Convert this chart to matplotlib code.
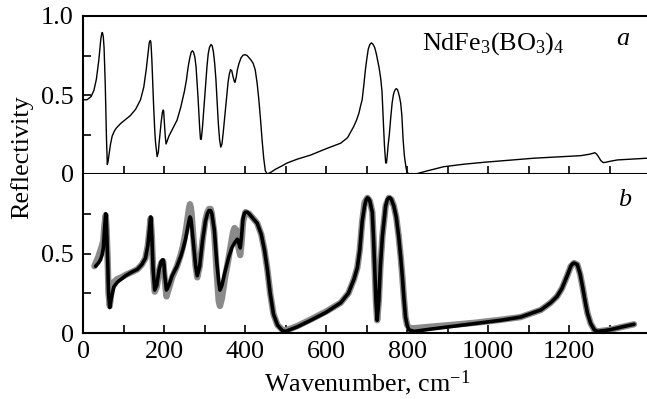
import matplotlib
matplotlib.use("Agg")
import matplotlib.pyplot as plt
from matplotlib.ticker import MultipleLocator, FixedLocator

plt.rcParams['font.family'] = ['Liberation Serif', 'DejaVu Serif']
plt.rcParams['mathtext.fontset'] = 'custom'
plt.rcParams['mathtext.rm'] = 'Liberation Serif'
plt.rcParams['mathtext.it'] = 'Liberation Serif:italic'

# ---- data: panel a (measured reflectivity) ----
wa = [0, 10, 20, 27, 33, 39, 42, 44, 46, 47, 48, 50, 52, 53, 55, 56, 58, 60, 62, 64,
      68, 72, 77, 82, 93, 105, 117, 130, 142, 150, 156, 159, 161, 163, 164, 166, 167,
      168, 170, 172, 174, 177, 179, 183, 186, 188, 193, 196, 198, 199, 201, 203, 205,
      208, 212, 222, 232, 241, 250, 255, 258, 261, 264, 267, 270, 273, 276, 279, 281,
      284, 286, 288, 290, 292, 295, 299, 302, 306, 309, 312, 316, 319, 322, 325, 328,
      331, 334, 337, 340, 343, 346, 352, 358, 361, 364, 367, 370, 373, 375, 378, 381,
      385, 390, 395, 400, 405, 410, 415, 420, 425, 430, 434, 438, 442, 446, 450, 455,
      463, 475, 490, 504, 530, 562, 600, 636, 653, 668, 675, 681, 685, 689, 693, 697,
      700, 704, 708, 712, 716, 720, 724, 727, 731, 735, 738, 740, 742, 744, 747, 749,
      751, 753, 756, 760, 763, 766, 768, 771, 773, 776, 778, 781, 784, 787, 790, 793,
      795, 798, 800, 805, 810, 821, 850, 890, 940, 989, 1050, 1113, 1170, 1228, 1250,
      1260, 1263, 1267, 1272, 1278, 1284, 1292, 1300, 1319, 1360, 1393]
ra = [0.47, 0.47, 0.49, 0.53, 0.60, 0.72, 0.80, 0.855, 0.885, 0.895, 0.895, 0.87,
      0.80, 0.72, 0.56, 0.45, 0.22, 0.06, 0.08, 0.12, 0.19, 0.24, 0.27, 0.29, 0.32,
      0.345, 0.37, 0.41, 0.47, 0.55, 0.66, 0.73, 0.78, 0.82, 0.835, 0.845, 0.84, 0.82,
      0.72, 0.58, 0.45, 0.28, 0.20, 0.11, 0.14, 0.20, 0.33, 0.39, 0.405, 0.40, 0.32,
      0.24, 0.19, 0.21, 0.24, 0.29, 0.34, 0.42, 0.52, 0.59, 0.65, 0.70, 0.74, 0.77,
      0.78, 0.77, 0.74, 0.68, 0.60, 0.48, 0.38, 0.29, 0.22, 0.22, 0.30, 0.44, 0.55,
      0.68, 0.76, 0.80, 0.82, 0.81, 0.77, 0.70, 0.60, 0.46, 0.32, 0.22, 0.17, 0.19,
      0.26, 0.42, 0.58, 0.63, 0.66, 0.655, 0.62, 0.59, 0.58, 0.61, 0.66, 0.70, 0.735,
      0.752, 0.755, 0.75, 0.735, 0.72, 0.70, 0.66, 0.57, 0.47, 0.35, 0.215, 0.10, 0.02,
      0.0, 0.01, 0.03, 0.05, 0.07, 0.095, 0.12, 0.16, 0.195, 0.23, 0.30, 0.34, 0.385,
      0.43, 0.47, 0.56, 0.66, 0.72, 0.79, 0.82, 0.83, 0.82, 0.80, 0.76, 0.72, 0.67,
      0.60, 0.52, 0.40, 0.29, 0.18, 0.07, 0.07, 0.12, 0.18, 0.25, 0.37, 0.45, 0.50,
      0.52, 0.535, 0.54, 0.535, 0.52, 0.49, 0.45, 0.37, 0.22, 0.12, 0.08, 0.03, 0.01,
      0.0, 0.0, 0.0, 0.02, 0.046, 0.062, 0.074, 0.087, 0.10, 0.108, 0.116, 0.125,
      0.132, 0.135, 0.128, 0.11, 0.085, 0.072, 0.075, 0.08, 0.089, 0.095, 0.10]

# ---- data: panel b, black curve ----
wb = [31, 38, 43, 47, 50, 53, 55, 56, 57, 58, 61, 63, 66, 70, 76, 85, 95, 105, 118, 134,
      145, 154, 160, 164, 166, 167, 168, 170, 173, 177, 182, 188, 193, 196, 198, 200,
      201, 206, 212, 220, 232, 241, 247, 253, 259, 262, 264, 266, 268, 273, 278, 282,
      288, 295, 302, 307, 311, 315, 318, 324, 330, 335, 338, 343, 350, 360, 368, 375,
      381, 385, 388, 391, 395, 398, 401, 405, 410, 420, 430, 440, 448, 455, 462, 470,
      480, 492, 500, 530, 562, 600, 636, 655, 669, 677, 683, 689, 695, 699, 702, 705,
      708, 714, 717, 720, 723, 726, 730, 734, 739, 747, 751, 755, 758, 761, 767, 773,
      779, 784, 788, 792, 796, 800, 804, 817, 860, 907, 970, 1031, 1080, 1130, 1154,
      1170, 1182, 1195, 1204, 1208, 1212, 1216, 1220, 1227, 1233, 1240, 1245, 1253,
      1262, 1270, 1300, 1330, 1360]
rb = [0.42, 0.44, 0.46, 0.49, 0.53, 0.65, 0.72, 0.75, 0.74, 0.68, 0.45, 0.25, 0.16,
      0.22, 0.29, 0.32, 0.34, 0.36, 0.38, 0.40, 0.43, 0.47, 0.55, 0.65, 0.71, 0.73,
      0.72, 0.60, 0.40, 0.27, 0.30, 0.40, 0.45, 0.46, 0.46, 0.43, 0.38, 0.27, 0.30,
      0.36, 0.42, 0.48, 0.53, 0.59, 0.67, 0.71, 0.73, 0.72, 0.68, 0.55, 0.42, 0.36,
      0.42, 0.58, 0.70, 0.75, 0.77, 0.77, 0.75, 0.65, 0.45, 0.32, 0.27, 0.30, 0.38,
      0.48, 0.54, 0.57, 0.59, 0.56, 0.535, 0.60, 0.72, 0.75, 0.76, 0.76, 0.75, 0.72,
      0.69, 0.62, 0.52, 0.40, 0.25, 0.12, 0.05, 0.015, 0.01, 0.04, 0.08, 0.13, 0.19,
      0.25, 0.34, 0.41, 0.52, 0.70, 0.80, 0.84, 0.85, 0.845, 0.83, 0.76, 0.60, 0.40,
      0.20, 0.08, 0.20, 0.42, 0.61, 0.80, 0.84, 0.85, 0.85, 0.84, 0.80, 0.73, 0.61,
      0.48, 0.36, 0.22, 0.10, 0.05, 0.02, 0.01, 0.025, 0.04, 0.06, 0.08, 0.10, 0.145,
      0.19, 0.23, 0.28, 0.36, 0.42, 0.435, 0.44, 0.435, 0.43, 0.37, 0.29, 0.19, 0.125,
      0.06, 0.02, 0.01, 0.02, 0.038, 0.055]

# ---- data: panel b, gray curve ----
wg = [28, 33, 38, 43, 47, 50, 53, 56, 58, 61, 63, 66, 70, 76, 85, 95, 105, 118, 134,
      145, 154, 160, 164, 167, 170, 173, 177, 182, 188, 193, 198, 201, 206, 212, 220,
      232, 241, 247, 253, 259, 262, 264, 266, 268, 273, 278, 282, 288, 295, 302, 307,
      311, 315, 318, 324, 330, 335, 338, 343, 350, 360, 368, 371, 374, 378, 383, 388,
      391, 395, 401, 410, 420, 430, 440, 448, 455, 462, 470, 480, 492, 500, 530, 562,
      600, 636, 655, 669, 677, 683, 689, 695, 702, 708, 714, 717, 720, 723, 726, 730,
      734, 739, 747, 755, 761, 767, 773, 779, 784, 788, 792, 796, 800, 806, 817, 860,
      907, 970, 1031, 1080, 1130, 1154, 1170, 1182, 1195, 1204, 1212, 1220, 1227,
      1233, 1240, 1245, 1253, 1262, 1270, 1300, 1330, 1360]
rg = [0.42, 0.45, 0.48, 0.52, 0.55, 0.58, 0.68, 0.74, 0.66, 0.45, 0.25, 0.17, 0.26,
      0.32, 0.34, 0.35, 0.365, 0.38, 0.40, 0.43, 0.47, 0.55, 0.65, 0.72, 0.60, 0.40,
      0.26, 0.29, 0.39, 0.44, 0.45, 0.36, 0.23, 0.28, 0.35, 0.42, 0.49, 0.55, 0.63,
      0.74, 0.79, 0.81, 0.79, 0.75, 0.58, 0.42, 0.35, 0.42, 0.58, 0.71, 0.76, 0.78,
      0.78, 0.75, 0.63, 0.38, 0.20, 0.17, 0.22, 0.34, 0.48, 0.60, 0.64, 0.66, 0.65,
      0.55, 0.49, 0.56, 0.70, 0.76, 0.75, 0.72, 0.69, 0.62, 0.52, 0.40, 0.25, 0.12,
      0.05, 0.02, 0.015, 0.045, 0.085, 0.135, 0.19, 0.25, 0.34, 0.41, 0.52, 0.70,
      0.82, 0.85, 0.83, 0.76, 0.60, 0.40, 0.20, 0.08, 0.20, 0.42, 0.61, 0.80, 0.85,
      0.84, 0.80, 0.73, 0.61, 0.48, 0.36, 0.22, 0.10, 0.05, 0.03, 0.03, 0.04, 0.05,
      0.065, 0.083, 0.10, 0.145, 0.19, 0.23, 0.28, 0.36, 0.42, 0.44, 0.43, 0.37, 0.29,
      0.19, 0.125, 0.06, 0.02, 0.01, 0.02, 0.038, 0.055]

xticks_major = [0, 200, 400, 600, 800, 1000, 1200]
xtick_labels = ['0', '200', '400', '600', '800', '1000', '1200']

FS = 18.8

fig = plt.figure(figsize=(6.47, 3.99), dpi=100)
W, H = 647.0, 399.0
left = 83 / W
right = 1.0
axa = fig.add_axes([left, 1 - 174 / H, right - left, (174 - 16) / H])
axb = fig.add_axes([left, 1 - 333 / H, right - left, (333 - 174) / H])

axa.plot(wa, ra, color='black', lw=1.0, solid_joinstyle='round')
axb.plot(wg, rg, color='#8a8a8a', lw=4.6, solid_capstyle='round', solid_joinstyle='round')
axb.plot(wb, rb, color='black', lw=2.6, solid_capstyle='round', solid_joinstyle='round')

for ax in (axa, axb):
    ax.set_xlim(0, 1392)
    ax.set_ylim(0, 1.0)
    ax.spines['right'].set_visible(False)
    for s in ('left', 'bottom', 'top'):
        ax.spines[s].set_linewidth(1.5)
    ax.xaxis.set_major_locator(FixedLocator(xticks_major))
    ax.xaxis.set_minor_locator(MultipleLocator(100))
    ax.tick_params(which='both', direction='in', length=5.5, width=1.2,
                   top=False, right=False, labelsize=FS, pad=6.5)

axa.set_yticks([0, 0.5, 1.0])
axa.set_yticklabels(['0', '0.5', '1.0'])
axa.yaxis.set_minor_locator(FixedLocator([0.25, 0.75]))
axa.tick_params(axis='x', labelbottom=False)

axb.set_yticks([0, 0.5])
axb.set_yticklabels(['0', '0.5'])
axb.yaxis.set_minor_locator(FixedLocator([0.25, 0.75]))
axb.spines['top'].set_visible(False)
axb.set_xticklabels(xtick_labels)
axb.tick_params(axis='x', pad=5.5)

axa.text(836, 0.785, r'NdFe$_3$(BO$_3$)$_4$', fontsize=FS, ha='left', va='baseline')
axa.text(1317, 0.816, 'a', fontsize=FS, style='italic', ha='left', va='baseline')
axb.text(1320, 0.80, 'b', fontsize=FS, style='italic', ha='left', va='baseline')

fig.text(367 / W, 1 - 383 / H, r'Wavenumber, cm$^{-1}$', fontsize=FS, ha='center', va='center')
fig.text(22 / W, 1 - 157 / H, 'Reflectivity', fontsize=FS, rotation=90, ha='center', va='center')

fig.savefig('out.png', dpi=100)
